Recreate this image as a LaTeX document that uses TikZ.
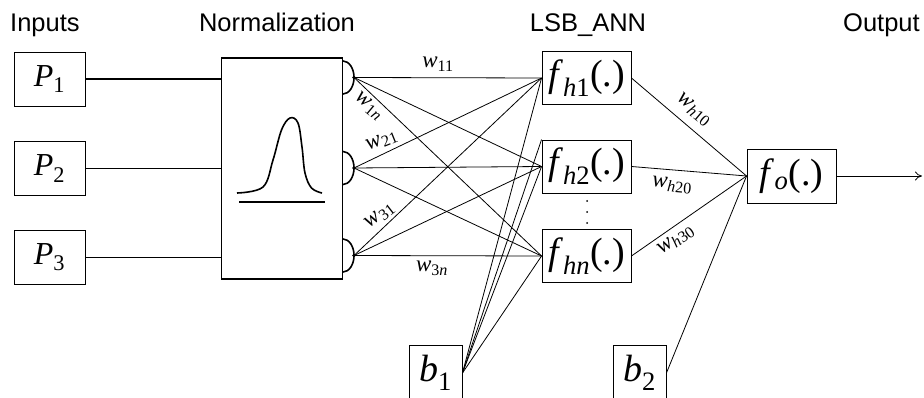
\documentclass[tikz,border=0pt]{standalone}
\usepackage{fontspec}
\setmainfont{Liberation Serif}
\setsansfont{Liberation Sans}
\usetikzlibrary{arrows.meta}
\tikzset{>={To[length=7pt,width=9pt]}}

\tikzset{
  box/.style={draw, line width=0.9pt, inner sep=0pt},
  inbox/.style={box, minimum width=71pt, minimum height=54pt},
  hidbox/.style={box, minimum width=89pt, minimum height=53pt},
  biasbox/.style={box, minimum width=53pt, minimum height=56pt},
  hdr/.style={font=\sffamily\fontsize{25.5}{27}\selectfont, inner sep=0pt},
  wlab/.style={font=\fontsize{23}{24}\selectfont, inner sep=0pt},
  big/.style={font=\fontsize{38}{40}\selectfont},
  wire/.style={line width=0.8pt},
  bold/.style={line width=1.6pt}
}

% italic letter with a subscript
\newcommand\vsub[2]{\textit{#1}\textsubscript{#2}}

\begin{document}
\begin{tikzpicture}[x=1pt, y=-1pt]

  \useasboundingbox (0,0) rectangle (924,398);

  % headings
  \node[hdr, anchor=base west] (hin)   at (10,32)  {Inputs};
  \node[hdr, anchor=base]      (hnorm) at (277,32) {Normalization};
  \node[hdr, anchor=base]      (hann)  at (588,32) {LSB\_ANN};
  \node[hdr, anchor=base west] (hout)  at (843,32) {Output};

  % inputs
  \node[inbox, font=\fontsize{32}{34}\selectfont] (p1) at (49.5,79)    {\vsub{P}{1}};
  \node[inbox, font=\fontsize{32}{34}\selectfont] (p2) at (49.5,168.5) {\vsub{P}{2}};
  \node[inbox, font=\fontsize{32}{34}\selectfont] (p3) at (49.5,257.5) {\vsub{P}{3}};

  % normalization block
  \node[draw, bold, minimum width=121pt, minimum height=221pt] (norm) at (282,168.5) {};
  \foreach \p in {p1,p2,p3}
    \draw[bold] (\p.east) -- (\p -| norm.west);

  \draw[bold] plot[smooth, tension=0.6] coordinates {(237,193) (263,187) (273,160)
    (281.5,130) (290,118) (298,123) (302,147) (305,173) (311.5,188) (322,193)};
  \draw[bold] (239,202) -- (325,202);

  \foreach \y/\n in {77.5/n1, 168/n2, 255.5/n3}{
    \draw[bold] (343,\y-16.5) arc[start angle=-90, end angle=90, x radius=11, y radius=16.5];
    \coordinate (\n) at (354,\y);
    \fill (\n) circle (1.8pt);
  }

  % hidden layer
  \node[hidbox, big] (fh1) at (586.5,78)    {\vsub{f}{\itshape h\upshape 1}(.)};
  \node[hidbox, big] (fh2) at (586.5,166.5) {\vsub{f}{\itshape h\upshape 2}(.)};
  \node[hidbox, big] (fhn) at (586.5,256)   {\vsub{f}{\itshape hn}(.)};
  \foreach \y in {201,212,223}
    \fill (587,\y) circle (1pt);

  \foreach \n in {n1,n2,n3}
    \foreach \h in {fh1,fh2,fhn}
      \draw[wire] (\n) -- (\h.west);

  \node[wlab] (w11) at (438,64)  {\vsub{w}{11}};
  \node[wlab, rotate=-40] (w1n) at (369,106) {\vsub{w}{1\itshape n}};
  \node[wlab, rotate=22]  (w21) at (382,141) {\vsub{w}{21}};
  \node[wlab, rotate=38]  (w31) at (380,216) {\vsub{w}{31}};
  \node[wlab] (w3n) at (432,268) {\vsub{w}{3\itshape n}};

  % bias of hidden layer
  \node[biasbox, big] (b1) at (435.5,373) {\vsub{b}{1}};
  \foreach \h in {fh1,fh2,fhn}
    \draw[wire] (b1.east) -- (\h.west);
  \draw[wire] (b1.east) -- (fh2.north west);

  % output layer
  \node[hidbox, minimum height=54pt, big] (fo) at (791.5,176) {\vsub{f}{\itshape o}(.)};
  \foreach \h in {fh1,fh2,fhn}
    \draw[wire] (\h.east) -- (fo.west);
  \coordinate (out) at (922,176);
  \draw[wire, ->] (fo.east) -- (out);

  \node[wlab, rotate=-40] (wh10) at (694,110) {\vsub{w}{\itshape h\upshape 10}};
  \node[wlab, rotate=-5]  (wh20) at (672,185) {\vsub{w}{\itshape h\upshape 20}};
  \node[wlab, rotate=35]  (wh30) at (676,240) {\vsub{w}{\itshape h\upshape 30}};

  \node[biasbox, big] (b2) at (639.5,373) {\vsub{b}{2}};
  \draw[wire] (b2.east) -- (fo.west);

\end{tikzpicture}
\end{document}
